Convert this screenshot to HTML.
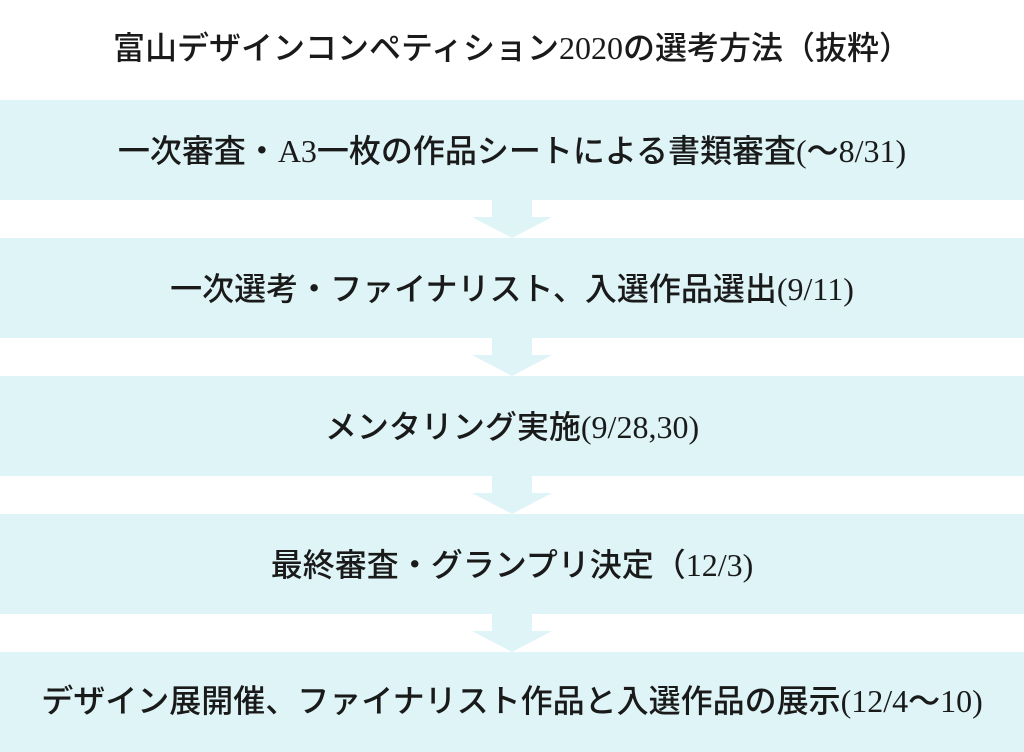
<!DOCTYPE html>
<html><head><meta charset="utf-8"><style>
body{margin:0;width:1024px;height:750px;background:#fff;position:relative;overflow:hidden;font-family:"Liberation Serif","Noto Sans CJK JP",serif;color:#1a1a1a;font-weight:500}
.t{position:absolute;left:0;width:1024px;text-align:center;font-size:32px;line-height:36px;white-space:nowrap}
.b{position:absolute;left:0;width:1024px;height:100px;background:#def4f6}
svg{position:absolute;left:472px;width:80px;height:40px}
</style></head><body>
<div class="t" style="top:30px">富山デザインコンペティション2020の選考方法（抜粋）</div>
<div class="b" style="top:100px"></div>
<div class="b" style="top:238px"></div>
<div class="b" style="top:376px"></div>
<div class="b" style="top:514px"></div>
<div class="b" style="top:652px"></div>
<svg style="top:198px" viewBox="0 0 80 40"><polygon points="20,0 60,0 60,19 80,19 40,40 0,19 20,19" fill="#def4f6"/></svg>
<svg style="top:336px" viewBox="0 0 80 40"><polygon points="20,0 60,0 60,19 80,19 40,40 0,19 20,19" fill="#def4f6"/></svg>
<svg style="top:474px" viewBox="0 0 80 40"><polygon points="20,0 60,0 60,19 80,19 40,40 0,19 20,19" fill="#def4f6"/></svg>
<svg style="top:612px" viewBox="0 0 80 40"><polygon points="20,0 60,0 60,19 80,19 40,40 0,19 20,19" fill="#def4f6"/></svg>
<div class="t" style="top:133px">一次審査・A3一枚の作品シートによる書類審査(〜8/31)</div>
<div class="t" style="top:271px">一次選考・ファイナリスト、入選作品選出(9/11)</div>
<div class="t" style="top:409px">メンタリング実施(9/28,30)</div>
<div class="t" style="top:547px">最終審査・グランプリ決定（12/3)</div>
<div class="t" style="top:683px">デザイン展開催、ファイナリスト作品と入選作品の展示(12/4〜10)</div>
</body></html>
